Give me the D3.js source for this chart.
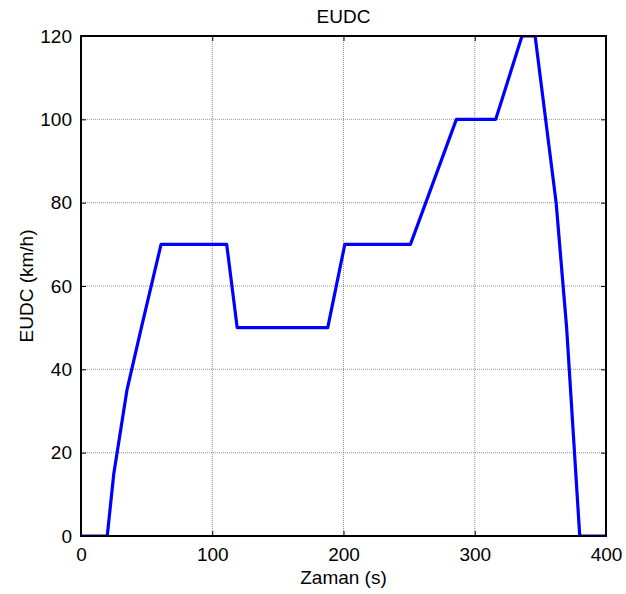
<!DOCTYPE html>
<html>
<head>
<meta charset="utf-8">
<script src="https://cdn.jsdelivr.net/npm/d3@7"></script>
<style>
  html, body { margin: 0; padding: 0; background: #fff; }
  svg { display: block; font-family: "Liberation Sans", Arial, sans-serif; }
</style>
</head>
<body>
<svg id="chart" width="626" height="594"></svg>
<script>
// EUDC speed profile: time (s) and speed (km/h)
const timeS  = [0, 20, 25, 35, 46, 61, 111, 119, 188, 201, 251, 286, 316, 336, 346, 362, 370, 380, 400];
const speedKmh = [0, 0, 15, 35, 50, 70, 70, 50, 50, 70, 70, 100, 100, 120, 120, 80, 50, 0, 0];
const xTicks = [0, 100, 200, 300, 400];
const yTicks = [0, 20, 40, 60, 80, 100, 120];

const margin = { left: 81, right: 20, top: 36, bottom: 58 };
const W = 626, H = 594;
const svg = d3.select("#chart");

const x = d3.scaleLinear().domain([0, 400]).range([margin.left, W - margin.right]);
const y = d3.scaleLinear().domain([0, 120]).range([H - margin.bottom, margin.top]);

const x0 = x.range()[0], x1 = x.range()[1];
const y0 = y.range()[0], y1 = y.range()[1];

// grid
const grid = svg.append("g");
grid.selectAll("line.gx").data(xTicks.slice(1, -1)).join("line")
  .attr("x1", d => x(d)).attr("x2", d => x(d)).attr("y1", y1).attr("y2", y0)
  .attr("stroke", "#777").attr("stroke-width", 0.8).attr("stroke-dasharray", "1,1");
grid.selectAll("line.gy").data(yTicks.slice(1, -1)).join("line")
  .attr("y1", d => y(d)).attr("y2", d => y(d)).attr("x1", x0).attr("x2", x1)
  .attr("stroke", "#777").attr("stroke-width", 0.8).attr("stroke-dasharray", "1,1");

// data line, clipped to the plot box
svg.append("clipPath").attr("id", "plotclip").append("rect")
  .attr("x", x0).attr("y", y1).attr("width", x1 - x0).attr("height", y0 - y1);

const line = d3.line().x((d, i) => x(timeS[i])).y(d => y(d));
svg.append("path")
  .attr("clip-path", "url(#plotclip)")
  .attr("d", line(speedKmh))
  .attr("fill", "none").attr("stroke", "#0000ff").attr("stroke-width", 3.2)
  .attr("stroke-linejoin", "round");

// axes with inward ticks
const tickLen = 5;
const axB = svg.append("g").attr("transform", `translate(0,${y0})`)
  .call(d3.axisBottom(x).tickValues(xTicks).tickSizeInner(-tickLen).tickSizeOuter(0).tickPadding(12));
const axT = svg.append("g").attr("transform", `translate(0,${y1})`)
  .call(d3.axisTop(x).tickValues(xTicks).tickSizeInner(-tickLen).tickSizeOuter(0).tickFormat(""));
const axL = svg.append("g").attr("transform", `translate(${x0},0)`)
  .call(d3.axisLeft(y).tickValues(yTicks).tickSizeInner(-tickLen).tickSizeOuter(0).tickPadding(9));
const axR = svg.append("g").attr("transform", `translate(${x1},0)`)
  .call(d3.axisRight(y).tickValues(yTicks).tickSizeInner(-tickLen).tickSizeOuter(0).tickFormat(""));

[axB, axT, axL, axR].forEach(a => {
  a.select(".domain").remove();
  a.selectAll(".tick line").attr("stroke", "#000").attr("stroke-width", 1);
  a.selectAll(".tick text").attr("fill", "#000").attr("font-size", 19)
    .attr("font-family", "Liberation Sans, Arial, sans-serif");
});
axB.selectAll(".tick text").attr("dy", "0.71em");

// box
svg.append("rect").attr("x", x0).attr("y", y1).attr("width", x1 - x0).attr("height", y0 - y1)
  .attr("fill", "none").attr("stroke", "#000").attr("stroke-width", 2);

// title and labels
svg.append("text").attr("x", (x0 + x1) / 2).attr("y", 23).attr("text-anchor", "middle")
  .attr("font-size", 19).text("EUDC");
svg.append("text").attr("x", (x0 + x1) / 2).attr("y", 584).attr("text-anchor", "middle")
  .attr("font-size", 19).text("Zaman (s)");
svg.append("text").attr("transform", `translate(33,${(y0 + y1) / 2}) rotate(-90)`)
  .attr("text-anchor", "middle").attr("font-size", 19).text("EUDC (km/h)");
</script>
</body>
</html>
